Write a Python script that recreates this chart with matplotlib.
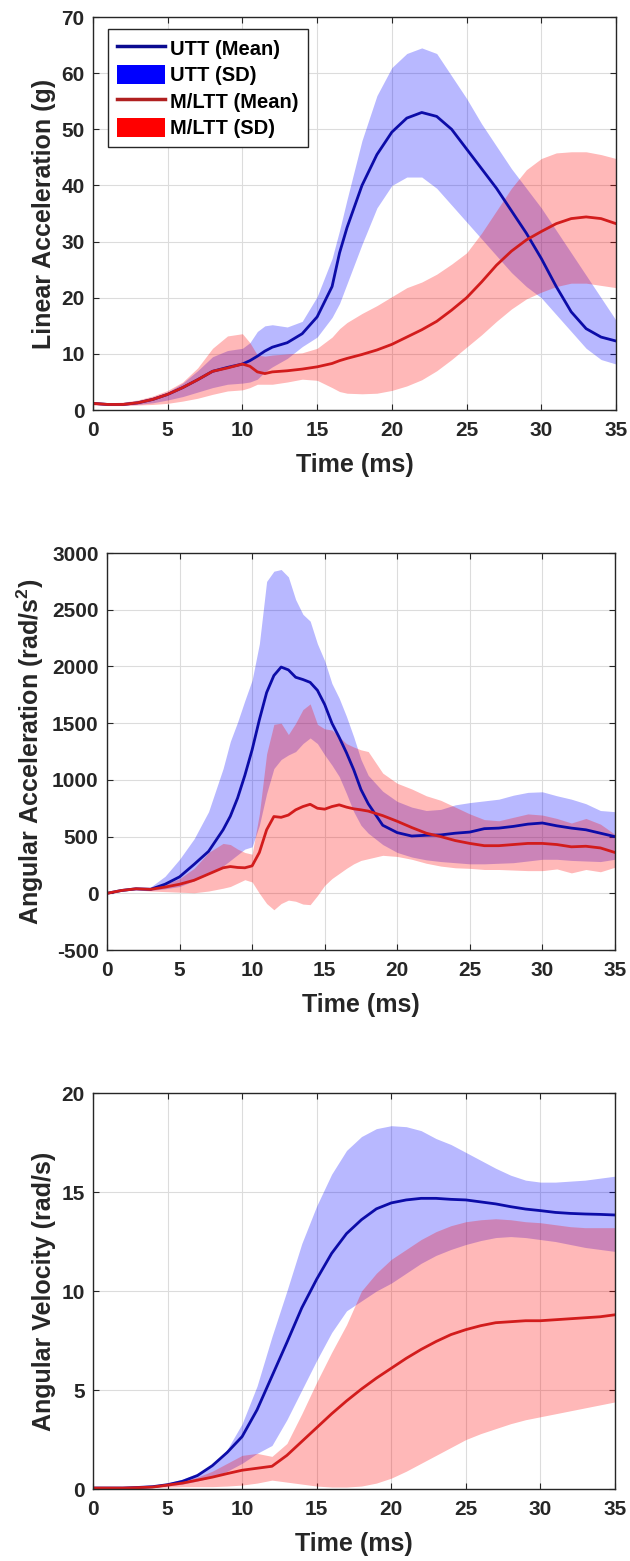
import numpy as np
import matplotlib
matplotlib.use("Agg")
import matplotlib.pyplot as plt
from matplotlib.lines import Line2D
from matplotlib.patches import Patch

plt.rcParams['font.family'] = ['Liberation Sans', 'DejaVu Sans']
plt.rcParams['font.weight'] = 'bold'
plt.rcParams['axes.unicode_minus'] = False
plt.rcParams['mathtext.fontset'] = 'custom'
plt.rcParams['mathtext.rm'] = 'Liberation Sans:bold'
plt.rcParams['mathtext.bf'] = 'Liberation Sans:bold'

# ---- panel 1: linear acceleration (g)
t1 = [0, 1, 2, 3, 4, 5, 6, 7, 8, 9, 10, 10.5, 11, 11.5, 12, 13, 14, 15, 16, 16.5,
      17, 18, 19, 20, 21, 22, 23, 24, 25, 26, 27, 28, 29, 30, 31, 32, 33, 34, 35]
utt_mean1 = [1.2, 1.0, 1.0, 1.3, 1.9, 2.8, 4.0, 5.4, 6.9, 7.6, 8.2, 8.8, 9.6, 10.5, 11.2, 12.0, 13.6, 16.6, 22.0, 28.0,
             32.5, 40.0, 45.5, 49.5, 52.0, 53.0, 52.3, 50.0, 46.5, 43.0, 39.5, 35.5, 31.5, 27.0, 22.0, 17.5, 14.5, 13.0, 12.3]
utt_hi1 = [1.3, 1.1, 1.2, 1.6, 2.3, 3.2, 4.8, 7.0, 9.5, 10.6, 11.0, 12.0, 14.0, 15.0, 15.2, 14.8, 15.8, 20.2, 27.0, 32.0,
           37.5, 48.0, 56.0, 61.0, 63.5, 64.5, 63.5, 59.5, 55.5, 51.0, 47.0, 43.0, 39.5, 36.0, 32.0, 28.0, 24.0, 20.0, 16.0]
utt_lo1 = [1.0, 0.9, 0.9, 1.0, 1.3, 1.8, 2.4, 3.2, 4.0, 4.6, 4.8, 5.0, 5.5, 6.8, 7.7, 9.2, 11.3, 13.0, 16.5, 19.0,
           22.5, 29.5, 36.0, 40.0, 41.5, 41.5, 39.5, 36.5, 33.5, 30.5, 27.5, 24.5, 22.0, 20.0, 17.0, 14.0, 11.0, 9.0, 8.2]
mltt_mean1 = [1.2, 1.0, 1.0, 1.3, 1.9, 2.8, 4.0, 5.4, 6.9, 7.5, 8.2, 7.8, 6.8, 6.5, 6.8, 7.0, 7.3, 7.7, 8.3, 8.8,
              9.2, 9.9, 10.7, 11.7, 13.0, 14.3, 15.8, 17.8, 20.0, 22.8, 25.8, 28.3, 30.3, 31.8, 33.2, 34.1, 34.4, 34.1, 33.2]
mltt_hi1 = [1.5, 1.3, 1.4, 1.8, 2.5, 3.5, 5.0, 7.5, 11.0, 13.2, 13.6, 12.0, 9.8, 9.6, 9.8, 10.0, 10.2, 11.0, 13.0, 14.5,
            15.6, 17.2, 18.6, 20.2, 21.8, 22.8, 24.2, 26.0, 28.0, 31.5, 35.5, 39.5, 42.8, 44.8, 45.8, 46.0, 46.0, 45.5, 44.8]
mltt_lo1 = [0.9, 0.8, 0.8, 0.9, 1.0, 1.2, 1.6, 2.1, 2.8, 3.4, 3.6, 4.0, 4.6, 4.6, 4.6, 5.0, 5.5, 5.3, 4.0, 3.3,
            3.0, 2.9, 3.0, 3.5, 4.3, 5.4, 7.0, 9.0, 11.2, 13.4, 15.8, 18.0, 19.8, 21.0, 22.0, 22.6, 22.6, 22.2, 21.8]

# ---- panel 2: angular acceleration (rad/s^2)
t2 = [0, 1, 2, 3, 4, 5, 6, 7, 8, 8.5, 9, 9.5, 10, 10.5, 11, 11.5, 12, 12.5, 13, 13.5, 14, 14.5, 15, 15.5,
      16, 16.5, 17, 17.5, 18, 19, 20, 21, 22, 23, 24, 25, 26, 27, 28, 29, 30, 31, 32, 33, 34, 35]
utt_mean2 = [0, 25, 40, 35, 80, 145, 255, 370, 560, 680, 840, 1040, 1265, 1530, 1770, 1920, 1995, 1970, 1905, 1885,
             1860, 1790, 1665, 1500, 1375, 1240, 1090, 915, 790, 600, 535, 505, 512, 515, 530, 540, 570, 575, 590,
             610, 620, 595, 575, 560, 530, 500]
utt_hi2 = [0, 30, 50, 55, 150, 300, 480, 720, 1100, 1340, 1510, 1700, 1880, 2200, 2750, 2840, 2855, 2790, 2590, 2460,
           2400, 2200, 2050, 1850, 1720, 1560, 1380, 1180, 1040, 900, 810, 760, 730, 740, 780, 800, 815, 830, 865,
           890, 895, 860, 830, 790, 730, 720]
utt_lo2 = [0, 20, 30, 25, 40, 60, 110, 170, 240, 290, 340, 390, 410, 600, 880, 1100, 1180, 1220, 1250, 1320,
           1370, 1320, 1220, 1130, 1030, 880, 720, 600, 530, 430, 360, 320, 295, 280, 270, 260, 260, 265, 270,
           285, 300, 300, 290, 285, 280, 300]
mltt_mean2 = [0, 25, 40, 35, 55, 80, 115, 170, 225, 236, 228, 225, 242, 360, 560, 677, 670, 690, 736, 765,
              785, 750, 742, 765, 780, 760, 745, 736, 725, 685, 635, 580, 530, 500, 465, 440, 420, 420, 430,
              440, 440, 430, 410, 415, 400, 360]
mltt_hi2 = [0, 30, 45, 45, 80, 130, 220, 360, 440, 430, 390, 360, 345, 700, 1230, 1490, 1500, 1400, 1500, 1620,
            1670, 1490, 1450, 1440, 1380, 1320, 1290, 1265, 1250, 1060, 970, 920, 860, 820, 760, 700, 650, 640, 670,
            700, 690, 660, 620, 660, 610, 520]
mltt_lo2 = [0, 20, 30, 20, 15, 10, 5, 20, 45, 60, 90, 120, 100, 0, -90, -145, -90, -60, -70, -95,
            -100, -20, 70, 130, 175, 220, 260, 290, 305, 335, 325, 300, 265, 240, 225, 220, 210, 210, 205,
            200, 200, 215, 180, 210, 190, 230]

# ---- panel 3: angular velocity (rad/s)
t3 = list(range(36))
utt_mean3 = [0.05, 0.05, 0.05, 0.08, 0.12, 0.22, 0.39, 0.68, 1.18, 1.85, 2.65, 4.0, 5.7, 7.4, 9.15, 10.6, 11.9, 12.9,
             13.6, 14.15, 14.45, 14.6, 14.68, 14.68, 14.63, 14.6, 14.5, 14.4, 14.26, 14.14, 14.06, 13.97, 13.92, 13.89, 13.87, 13.84]
utt_hi3 = [0.05, 0.06, 0.07, 0.1, 0.16, 0.3, 0.5, 0.8, 1.15, 2.0, 3.3, 5.2, 7.7, 10.0, 12.4, 14.3, 15.9, 17.1,
           17.8, 18.2, 18.35, 18.3, 18.1, 17.7, 17.4, 17.0, 16.6, 16.2, 15.85, 15.6, 15.5, 15.5, 15.55, 15.6, 15.7, 15.8]
utt_lo3 = [0.05, 0.04, 0.04, 0.06, 0.09, 0.15, 0.25, 0.4, 0.6, 0.9, 1.3, 1.8, 2.2, 3.5, 5.0, 6.5, 7.9, 9.0,
           9.5, 10.0, 10.4, 10.9, 11.4, 11.8, 12.1, 12.35, 12.55, 12.7, 12.75, 12.7, 12.6, 12.5, 12.35, 12.2, 12.1, 12.0]
mltt_mean3 = [0.05, 0.05, 0.05, 0.07, 0.1, 0.2, 0.3, 0.45, 0.6, 0.78, 0.95, 1.05, 1.15, 1.7, 2.4, 3.1, 3.8, 4.45,
              5.05, 5.6, 6.1, 6.6, 7.05, 7.45, 7.8, 8.05, 8.25, 8.4, 8.45, 8.5, 8.5, 8.55, 8.6, 8.65, 8.7, 8.8]
mltt_hi3 = [0.05, 0.06, 0.07, 0.1, 0.15, 0.25, 0.4, 0.6, 0.9, 1.3, 1.7, 1.8, 1.65, 2.3, 3.8, 5.4, 6.9, 8.3,
            10.0, 10.9, 11.6, 12.1, 12.6, 13.0, 13.3, 13.5, 13.6, 13.65, 13.6, 13.5, 13.45, 13.35, 13.25, 13.2, 13.2, 13.2]
mltt_lo3 = [0.05, 0.04, 0.04, 0.05, 0.07, 0.1, 0.12, 0.12, 0.12, 0.15, 0.2, 0.3, 0.45, 0.35, 0.25, 0.15, 0.1, 0.1,
            0.15, 0.3, 0.55, 0.9, 1.3, 1.7, 2.1, 2.5, 2.8, 3.05, 3.3, 3.5, 3.65, 3.8, 3.95, 4.1, 4.25, 4.4]

labels = ["UTT (Mean)", "UTT (SD)", "M/LTT (Mean)", "M/LTT (SD)"]
blue_line = '#0c0ca8'
red_line = '#d21c1c'
blue_fill = '#0000ff'
red_fill = '#ff0000'

fig = plt.figure(figsize=(6.3, 15.61), dpi=100)

panels = [
    ([0.1476, 0.7373, 0.8302, 0.2518], t1, utt_mean1, utt_lo1, utt_hi1, mltt_mean1, mltt_lo1, mltt_hi1,
     (0, 70), np.arange(0, 71, 10), "Linear Acceleration (g)"),
    ([0.1698, 0.3914, 0.8063, 0.2543], t2, utt_mean2, utt_lo2, utt_hi2, mltt_mean2, mltt_lo2, mltt_hi2,
     (-500, 3000), np.arange(-500, 3001, 500), r"Angular Acceleration (rad/s$^{2}$)"),
    ([0.1476, 0.0461, 0.8286, 0.2537], t3, utt_mean3, utt_lo3, utt_hi3, mltt_mean3, mltt_lo3, mltt_hi3,
     (0, 20), np.arange(0, 21, 5), "Angular Velocity (rad/s)"),
]

for i, (pos, t, um, ul, uh, mm, ml, mh, ylim, yt, ylab) in enumerate(panels):
    ax = fig.add_axes(pos)
    ax.fill_between(t, ul, uh, color=blue_fill, alpha=0.28, linewidth=0)
    ax.fill_between(t, ml, mh, color=red_fill, alpha=0.28, linewidth=0)
    ax.plot(t, um, color=blue_line, linewidth=2)
    ax.plot(t, mm, color=red_line, linewidth=2)
    ax.set_xlim(0, 35)
    ax.set_ylim(*ylim)
    ax.set_xticks(np.arange(0, 36, 5))
    ax.set_yticks(yt)
    ax.grid(True, color='#dcdcdc', linewidth=0.8)
    ax.set_axisbelow(True)
    ax.tick_params(direction='in', top=True, right=True, length=4, width=0.8,
                   labelsize=15, colors='#262626', pad=8)
    ax.tick_params(axis='y', pad=6)
    for sp in ax.spines.values():
        sp.set_color('#262626')
        sp.set_linewidth(1.0)
    ax.set_xlabel("Time (ms)", fontsize=18, fontweight='bold', labelpad=9, color='#262626')
    ax.set_ylabel(ylab, fontsize=18, fontweight='bold', labelpad=4, color='#262626')
    if i == 0:
        handles = [Line2D([], [], color='#0a0a90', linewidth=2.5),
                   Patch(facecolor=blue_fill, edgecolor='none'),
                   Line2D([], [], color='#b02020', linewidth=2.5),
                   Patch(facecolor=red_fill, edgecolor='none')]
        ax.legend(handles, labels, loc='upper left', bbox_to_anchor=(0.0287, 0.9695),
                  borderaxespad=0, fancybox=False, edgecolor='#262626', framealpha=1,
                  prop={'size': 14.5, 'weight': 'bold'}, handlelength=2.4, handleheight=1.1,
                  handletextpad=0.25, labelspacing=0.3, borderpad=0.45)

fig.savefig("out.png", dpi=100)
